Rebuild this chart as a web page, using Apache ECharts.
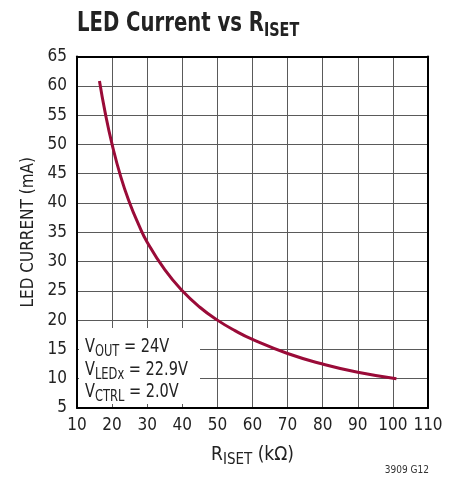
<!DOCTYPE html>
<html>
<head>
<meta charset="utf-8">
<script src="https://cdn.jsdelivr.net/npm/echarts@6/dist/echarts.min.js"></script>
<style>
  html, body { margin: 0; padding: 0; background: #fff; }
  #chart { width: 459px; height: 481px; }
</style>
</head>
<body>
<div id="chart"></div>
<script>
// R_ISET (kΩ) and LED current (mA)
const riset = [16.4, 18, 20, 22.5, 25, 27.5, 30, 35, 40, 45, 50, 55, 60, 70, 80, 90, 101];
const ledCurrent = [60.8, 55.5, 50, 44.4, 40, 36.4, 33.3, 28.6, 25, 22.2, 20, 18.2, 16.7, 14.3, 12.5, 11.1, 10];

const xTicks = [10, 20, 30, 40, 50, 60, 70, 80, 90, 100, 110];
const yTicks = [5, 10, 15, 20, 25, 30, 35, 40, 45, 50, 55, 60, 65];

const FONT = '"Liberation Sans Narrow", "DejaVu Sans Condensed", sans-serif';
const curveColor = '#9a0b38';
const gridColor = '#5a5a5a';

const chart = echarts.init(document.getElementById('chart'));

// 条件文字 (白底框内), 横向压缩以模仿窄体字
const condRich = {
  v: { fontFamily: FONT, fontSize: 19, lineHeight: 22, verticalAlign: 'top', fill: '#222' },
  s: { fontFamily: FONT, fontSize: 15, lineHeight: 16, verticalAlign: 'bottom', fill: '#222' }
};
function condText(y, str) {
  return {
    type: 'text',
    x: 85,
    y: y,
    scaleX: 0.85,
    z: 10,
    style: { text: str, rich: condRich, verticalAlign: 'top', align: 'left' }
  };
}

const option = {
  animation: false,
  grid: { left: 77, right: 31, top: 56.5, bottom: 73 },
  xAxis: [
    {
      type: 'value',
      min: xTicks[0],
      max: xTicks[xTicks.length - 1],
      interval: 10,
      name: '{v|R}{s|ISET}{v| (kΩ)}',
      nameLocation: 'middle',
      nameGap: 38,
      nameTextStyle: {
        rich: {
          v: { fontFamily: FONT, fontSize: 19, lineHeight: 22, verticalAlign: 'top', color: '#222' },
          s: { fontFamily: FONT, fontSize: 15, lineHeight: 16, verticalAlign: 'bottom', color: '#222' }
        }
      },
      axisLine: { show: true, lineStyle: { color: '#000', width: 2 } },
      axisTick: { show: false },
      axisLabel: { fontFamily: FONT, fontSize: 17, color: '#222', margin: 9 },
      splitLine: { show: true, lineStyle: { color: gridColor, width: 1 } }
    },
    {
      type: 'value',
      position: 'top',
      min: xTicks[0],
      max: xTicks[xTicks.length - 1],
      interval: 10,
      axisLine: { show: true, lineStyle: { color: '#000', width: 2 } },
      axisTick: { show: false },
      axisLabel: { show: false },
      splitLine: { show: false }
    }
  ],
  yAxis: [
    {
      type: 'value',
      min: yTicks[0],
      max: yTicks[yTicks.length - 1],
      interval: 5,
      name: 'LED CURRENT (mA)',
      nameLocation: 'middle',
      nameGap: 40,
      nameTextStyle: { fontFamily: FONT, fontSize: 17, color: '#222' },
      axisLine: { show: true, lineStyle: { color: '#000', width: 2 } },
      axisTick: { show: false },
      axisLabel: { fontFamily: FONT, fontSize: 17, color: '#222', margin: 10 },
      splitLine: { show: true, lineStyle: { color: gridColor, width: 1 } }
    },
    {
      type: 'value',
      position: 'right',
      min: yTicks[0],
      max: yTicks[yTicks.length - 1],
      interval: 5,
      axisLine: { show: true, lineStyle: { color: '#000', width: 2 } },
      axisTick: { show: false },
      axisLabel: { show: false },
      splitLine: { show: false }
    }
  ],
  graphic: [
    // 标题
    {
      type: 'text',
      x: 77,
      y: 11,
      scaleX: 0.84,
      style: {
        text: '{a|LED Current vs R}{b|ISET}',
        verticalAlign: 'top',
        align: 'left',
        rich: {
          a: { fontFamily: FONT, fontSize: 26, fontWeight: 'bold', lineHeight: 30, verticalAlign: 'top', fill: '#222' },
          b: { fontFamily: FONT, fontSize: 19, fontWeight: 'bold', lineHeight: 20, verticalAlign: 'bottom', fill: '#222' }
        }
      }
    },
    {
      type: 'rect',
      left: 79,
      top: 328,
      z: 5,
      shape: { width: 121, height: 76 },
      style: { fill: '#fff' }
    },
    condText(337.5, '{v|V}{s|OUT}{v| = 24V}'),
    condText(360.5, '{v|V}{s|LEDx}{v| = 22.9V}'),
    condText(382.5, '{v|V}{s|CTRL}{v| = 2.0V}'),
    {
      type: 'text',
      right: 30,
      top: 465,
      style: { text: '3909 G12', fontFamily: FONT, fontSize: 10, fill: '#333' }
    }
  ],
  series: [
    {
      type: 'line',
      data: riset.map((r, i) => [r, ledCurrent[i]]),
      smooth: true,
      showSymbol: false,
      lineStyle: { color: curveColor, width: 3 },
      z: 3
    }
  ]
};

chart.setOption(option);
</script>
</body>
</html>
